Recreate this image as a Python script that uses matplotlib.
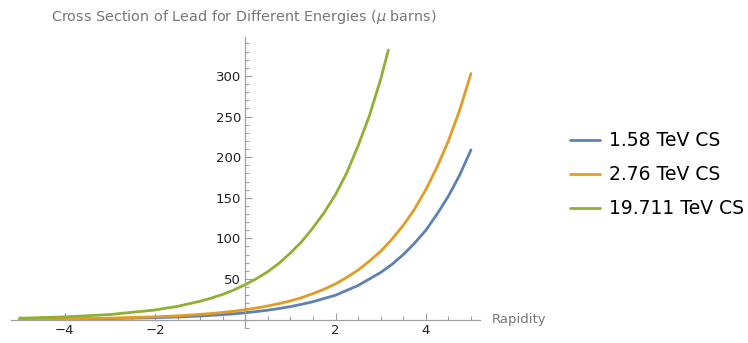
import numpy as np
import matplotlib
matplotlib.use("Agg")
import matplotlib.pyplot as plt
from matplotlib.ticker import MultipleLocator, FixedLocator

# values (rapidity -> cross section, micro barns)
x_green = [-5, -4, -3, -2, -1.5, -1, -0.75, -0.5, -0.25, 0, 0.25, 0.5, 0.75, 1, 1.25, 1.5,
           1.75, 2, 2.25, 2.5, 2.75, 3, 3.17]
cs_green = [1.7, 3.3, 6.2, 11.8, 16.3, 22.6, 26.5, 31, 36.5, 43, 50.5, 59, 69.5, 82, 96, 113,
            132, 154, 181, 214, 251, 296, 332]

x_orange = [-5, -4, -3, -2, -1.5, -1, -0.75, -0.5, -0.25, 0, 0.25, 0.5, 0.75, 1, 1.25, 1.5,
            1.75, 2, 2.25, 2.5, 2.75, 3, 3.25, 3.5, 3.75, 4, 4.25, 4.5, 4.75, 5]
cs_orange = [0.5, 0.9, 1.8, 3.4, 4.6, 6.4, 7.5, 8.8, 10.3, 12.2, 14.3, 16.8, 19.7, 23, 27, 32,
             37.5, 44, 52, 61, 72, 84, 99, 116, 136, 160, 188, 220, 258, 303]

x_blue = [-5, -4, -3, -2, -1.5, -1, -0.75, -0.5, -0.25, 0, 0.25, 0.5, 0.75, 1, 1.25, 1.5,
          1.75, 2, 2.25, 2.5, 2.75, 3, 3.25, 3.5, 3.75, 4, 4.25, 4.5, 4.75, 5]
cs_blue = [0.35, 0.6, 1.2, 2.3, 3.2, 4.4, 5.2, 6.1, 7.1, 8.4, 9.9, 11.6, 13.6, 16, 18.8, 22,
           26, 30, 36, 42, 50, 58, 68, 80, 94, 110, 130, 152, 178, 209]

labels = ["1.58 TeV CS", "2.76 TeV CS", "19.711 TeV CS"]
colors = ["#5E81B5", "#E19C24", "#8FB032"]

x_major = [-4, -2, 2, 4]
y_major = [50, 100, 150, 200, 250, 300]

fig = plt.figure(figsize=(7.48, 3.43), dpi=100)
ax = fig.add_axes([10.5 / 748, 15.3 / 343, 469.5 / 748, 290.7 / 343])

series = [(x_blue, cs_blue), (x_orange, cs_orange), (x_green, cs_green)]
for (xs, ys), c, lab in zip(series, colors, labels):
    ax.plot(xs, ys, color=c, lw=2.0, label=lab, solid_capstyle='round',
            solid_joinstyle='round')

ax.set_xlim(-5.2, 5.2)
ax.set_ylim(-10, 348)

for s in ['top', 'right']:
    ax.spines[s].set_visible(False)
ax.spines['left'].set_position(('data', 0))
ax.spines['bottom'].set_position(('data', 0))
for s in ['left', 'bottom']:
    ax.spines[s].set_color('#a0a0a0')
    ax.spines[s].set_linewidth(0.9)

ax.xaxis.set_major_locator(FixedLocator(x_major))
ax.xaxis.set_minor_locator(MultipleLocator(0.5))
ax.yaxis.set_major_locator(FixedLocator(y_major))
ax.yaxis.set_minor_locator(MultipleLocator(10))
ax.set_xticklabels(["\u22124", "\u22122", "2", "4"])
ax.set_yticklabels([str(v) for v in y_major])

ax.tick_params(axis='both', which='both', direction='in', color='#a0a0a0',
               labelcolor='#222222', labelsize=9.5, width=0.8)
ax.tick_params(axis='both', which='major', length=5, pad=3)
ax.tick_params(axis='both', which='minor', length=3)
ax.patch.set_alpha(0)

ax.text(5.45, 0, "Rapidity", color='#777777', fontsize=9.5, va='center', ha='left')
fig.text(244 / 748, 1 - 17 / 343,
         "Cross Section of Lead for Different Energies ($\\mu$ barns)",
         color='#777777', fontsize=10.4, ha='center', va='center')

fig.legend(loc='center left', bbox_to_anchor=(562 / 748, 1 - 175 / 343),
           frameon=False, fontsize=13.5, handlelength=1.6, handletextpad=0.5,
           labelspacing=0.8, borderaxespad=0)

fig.savefig("out.png", dpi=100)
